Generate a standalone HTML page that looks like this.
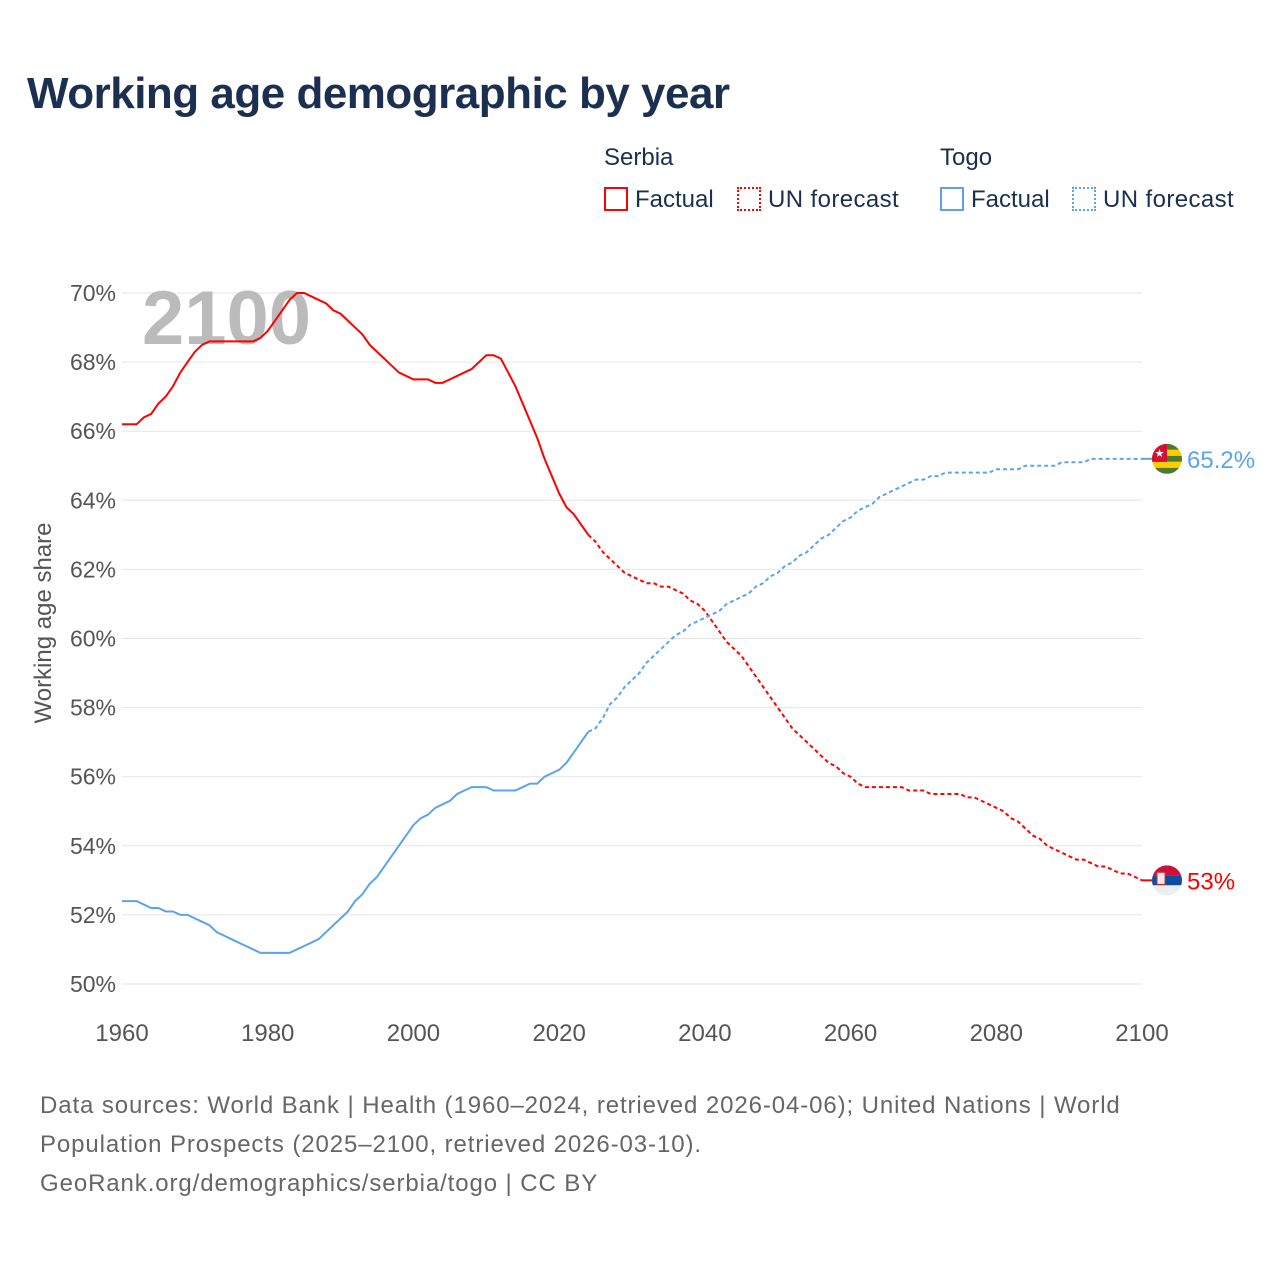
<!DOCTYPE html>
<html><head><meta charset="utf-8"><style>
body{margin:0;background:#fff;font-family:"Liberation Sans",sans-serif}
#wrap{position:relative;width:1280px;height:1280px;overflow:hidden}
.t{position:absolute;white-space:nowrap}
</style></head><body>
<div id="wrap">
<div class="t" style="left:27px;top:69px;font-size:44px;font-weight:bold;color:#1b3050;letter-spacing:-0.5px">Working age demographic by year</div>
<div class="t" style="left:604px;top:144px;font-size:24px;color:#1b3050">Serbia</div>
<div class="t" style="left:940px;top:144px;font-size:24px;color:#1b3050">Togo</div>
<div class="t" style="left:604px;top:186px;font-size:24px;color:#1b3050"><span style="display:inline-block;width:20px;height:20px;border:2px solid #f00;vertical-align:-4px;margin-right:7px"></span>Factual</div>
<div class="t" style="left:737px;top:186px;font-size:24px;color:#1b3050;letter-spacing:0.4px"><span style="display:inline-block;width:20px;height:20px;border:2px dotted #f00;vertical-align:-4px;margin-right:7px"></span>UN forecast</div>
<div class="t" style="left:940px;top:186px;font-size:24px;color:#1b3050"><span style="display:inline-block;width:20px;height:20px;border:2px solid #5ba4ea;vertical-align:-4px;margin-right:7px"></span>Factual</div>
<div class="t" style="left:1072px;top:186px;font-size:24px;color:#1b3050;letter-spacing:0.4px"><span style="display:inline-block;width:20px;height:20px;border:2px dotted #5ba4ea;vertical-align:-4px;margin-right:7px"></span>UN forecast</div>
<svg id="plot" width="1280" height="1280" style="position:absolute;left:0;top:0"></svg>
<div class="t" style="left:40px;top:1086px;font-size:24px;line-height:39px;color:#666;letter-spacing:0.9px">Data sources: World Bank | Health (1960–2024, retrieved 2026-04-06); United Nations | World<br>Population Prospects (2025–2100, retrieved 2026-03-10).<br>GeoRank.org/demographics/serbia/togo | CC BY</div>
</div>
<script>
const serbiaFactual=[66.2,66.2,66.2,66.4,66.5,66.8,67.0,67.3,67.7,68.0,68.3,68.5,68.6,68.6,68.6,68.6,68.6,68.6,68.6,68.7,68.9,69.2,69.5,69.8,70.0,70.0,69.9,69.8,69.7,69.5,69.4,69.2,69.0,68.8,68.5,68.3,68.1,67.9,67.7,67.6,67.5,67.5,67.5,67.4,67.4,67.5,67.6,67.7,67.8,68.0,68.2,68.2,68.1,67.7,67.3,66.8,66.3,65.8,65.2,64.7,64.2,63.8,63.6,63.3,63.0];
const serbiaForecast=[62.8,62.5,62.3,62.1,61.9,61.8,61.7,61.6,61.6,61.5,61.5,61.4,61.3,61.1,61.0,60.8,60.5,60.2,59.9,59.7,59.5,59.2,58.9,58.6,58.3,58.0,57.7,57.4,57.2,57.0,56.8,56.6,56.4,56.3,56.1,56.0,55.8,55.7,55.7,55.7,55.7,55.7,55.7,55.6,55.6,55.6,55.5,55.5,55.5,55.5,55.5,55.4,55.4,55.3,55.2,55.1,55.0,54.8,54.7,54.5,54.3,54.2,54.0,53.9,53.8,53.7,53.6,53.6,53.5,53.4,53.4,53.3,53.2,53.2,53.1,53.0];
const togoFactual=[52.4,52.4,52.4,52.3,52.2,52.2,52.1,52.1,52.0,52.0,51.9,51.8,51.7,51.5,51.4,51.3,51.2,51.1,51.0,50.9,50.9,50.9,50.9,50.9,51.0,51.1,51.2,51.3,51.5,51.7,51.9,52.1,52.4,52.6,52.9,53.1,53.4,53.7,54.0,54.3,54.6,54.8,54.9,55.1,55.2,55.3,55.5,55.6,55.7,55.7,55.7,55.6,55.6,55.6,55.6,55.7,55.8,55.8,56.0,56.1,56.2,56.4,56.7,57.0,57.3];
const togoForecast=[57.4,57.7,58.1,58.3,58.6,58.8,59.0,59.3,59.5,59.7,59.9,60.1,60.2,60.4,60.5,60.6,60.7,60.8,61.0,61.1,61.2,61.3,61.5,61.6,61.8,61.9,62.1,62.2,62.4,62.5,62.7,62.9,63.0,63.2,63.4,63.5,63.7,63.8,63.9,64.1,64.2,64.3,64.4,64.5,64.6,64.6,64.7,64.7,64.8,64.8,64.8,64.8,64.8,64.8,64.8,64.9,64.9,64.9,64.9,65.0,65.0,65.0,65.0,65.0,65.1,65.1,65.1,65.1,65.2,65.2,65.2,65.2,65.2,65.2,65.2,65.2];
const yTicks=[50,52,54,56,58,60,62,64,66,68,70];
const xTicks=[1960,1980,2000,2020,2040,2060,2080,2100];
const NS='http://www.w3.org/2000/svg';
const svg=document.getElementById('plot');
const X=y=>122+(y-1960)*(1020/140);
const Y=v=>984-(v-50)*(691/20);
function mk(tag,attrs,parent){const e=document.createElementNS(NS,tag);for(const k in attrs)e.setAttribute(k,attrs[k]);(parent||svg).appendChild(e);return e;}
yTicks.forEach(v=>{
 const l=mk('line',{x1:122,x2:1142,y1:Y(v),y2:Y(v),stroke:'#e6e6e6','stroke-width':1});
 
 
 const t=mk('text',{x:116,y:Y(v)+8,'text-anchor':'end','font-size':23,fill:'#555','font-family':'Liberation Sans, sans-serif'});
 t.textContent=v+'%';
 
 
});
xTicks.forEach(v=>{
 const t=mk('text',{x:X(v),y:1041,'text-anchor':'middle','font-size':24,fill:'#555','font-family':'Liberation Sans, sans-serif'});
 t.textContent=v;
 
 
});
const yt=mk('text',{x:0,y:0,transform:'translate(51,623) rotate(-90)','text-anchor':'middle','font-size':24,fill:'#555','font-family':'Liberation Sans, sans-serif'});
yt.textContent='Working age share';


const yr=mk('text',{x:142,y:344,'font-size':76,'font-weight':'bold',fill:'#bbb','font-family':'Liberation Sans, sans-serif'});
yr.textContent='2100';


function line(arr,start,prev,color,dash,name){
 let pts=[];if(prev!==null)pts.push([X(start-1),Y(prev)]);
 arr.forEach((v,i)=>pts.push([X(start+i),Y(v)]));
 const p=mk('polyline',{points:pts.map(p=>p.join(',')).join(' '),fill:'none',stroke:color,'stroke-width':2,'stroke-dasharray':dash||'none'});
 
 
}
line(serbiaFactual,1960,null,'#f00',null,'serbia-factual-line');
line(serbiaForecast,2025,serbiaFactual[serbiaFactual.length-1],'#f00','4 3','serbia-forecast-line');
line(togoFactual,1960,null,'#5ba4ea',null,'togo-factual-line');
line(togoForecast,2025,togoFactual[togoFactual.length-1],'#5ba4ea','4 3','togo-forecast-line');
const tv=togoForecast[togoForecast.length-1], sv=serbiaForecast[serbiaForecast.length-1];
mk('line',{x1:1142,x2:1152,y1:Y(tv),y2:Y(tv),stroke:'#5ba4ea','stroke-width':2});
mk('line',{x1:1142,x2:1152,y1:Y(sv),y2:Y(sv),stroke:'#f00','stroke-width':2});
const defs=mk('defs',{});
const c1=mk('clipPath',{id:'ct'},defs);mk('circle',{cx:1167,cy:Y(tv),r:15},c1);
const c2=mk('clipPath',{id:'cs'},defs);mk('circle',{cx:1167,cy:Y(sv),r:15},c2);
const g1=mk('g',{'clip-path':'url(#ct)'});


const ty=Y(tv)-15;
for(let i=0;i<5;i++)mk('rect',{x:1152,y:ty+i*6,width:30,height:6,fill:i%2?'#ffce00':'#4d7a2e'},g1);
mk('rect',{x:1152,y:ty,width:15,height:18,fill:'#d21034'},g1);
mk('text',{x:1159.5,y:ty+13,'text-anchor':'middle','font-size':11,fill:'#fff'},g1).textContent='★';
const g2=mk('g',{'clip-path':'url(#cs)'});


const sy=Y(sv)-15;
mk('rect',{x:1152,y:sy,width:30,height:10,fill:'#d0103a'},g2);
mk('rect',{x:1152,y:sy+10,width:30,height:10,fill:'#0c4da2'},g2);
mk('rect',{x:1152,y:sy+20,width:30,height:10,fill:'#eee'},g2);
mk('rect',{x:1157,y:sy+7,width:8,height:12,fill:'#f5e8e8',stroke:'#c33','stroke-width':1},g2);
const l1=mk('text',{x:1187,y:Y(tv)+9,'font-size':24,fill:'#5ba4ea','font-family':'Liberation Sans, sans-serif'});
l1.textContent=tv+'%';


const l2=mk('text',{x:1187,y:Y(sv)+9,'font-size':24,fill:'#f00','font-family':'Liberation Sans, sans-serif'});
l2.textContent=Math.round(sv*10)/10+'%';


</script>
</body></html>
